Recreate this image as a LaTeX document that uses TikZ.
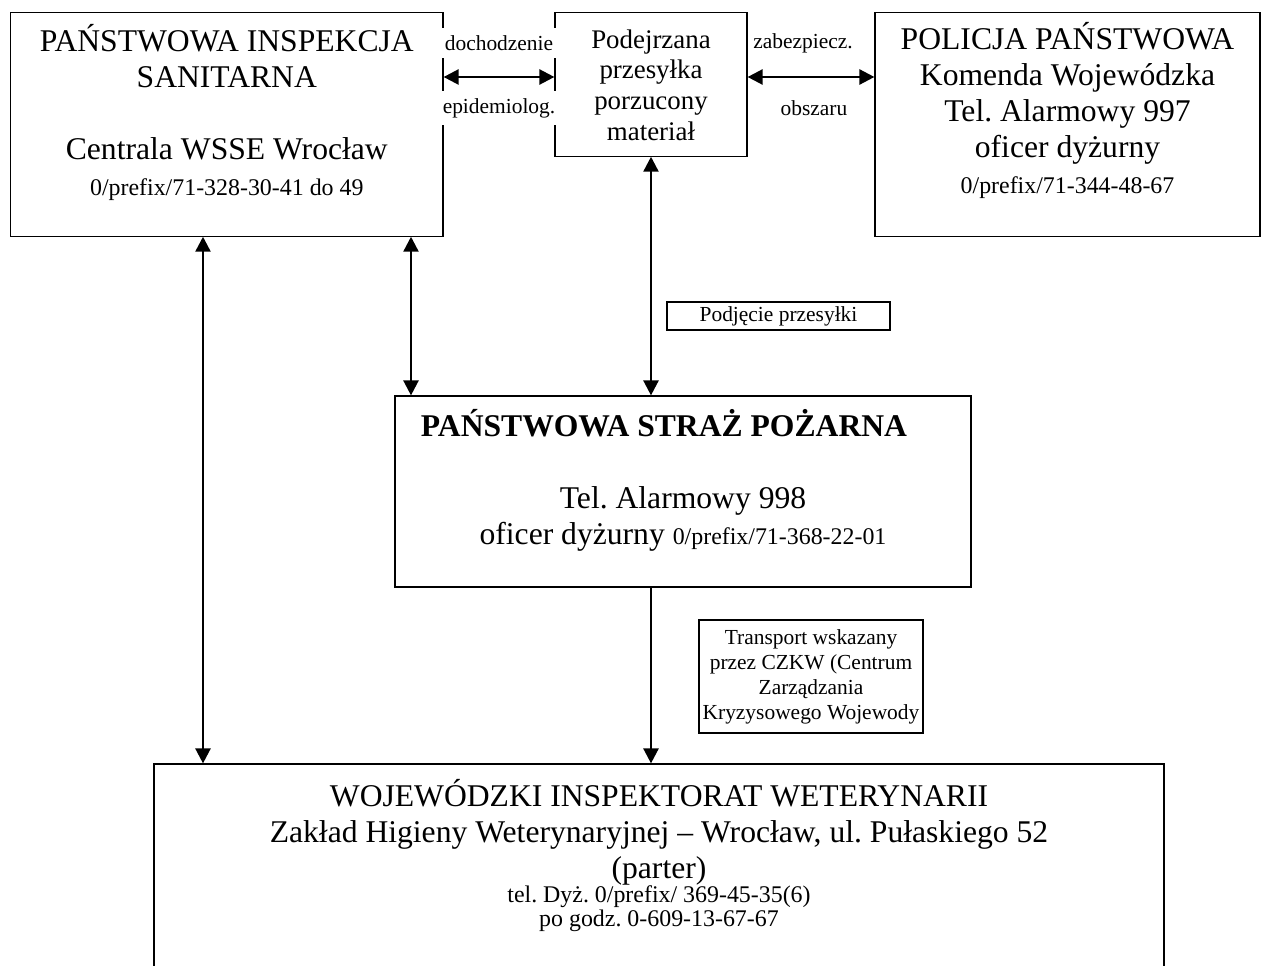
\documentclass[tikz,border=0pt]{standalone}
\usepackage{fontspec}
\setmainfont{Liberation Serif}
\usetikzlibrary{positioning}
\usetikzlibrary{arrows.meta}
\frenchspacing

\newcommand{\duzy}{\fontsize{18}{20.5}\selectfont}
\newcommand{\sredni}{\fontsize{13.6}{15.5}\selectfont}
\newcommand{\maly}{\fontsize{12.2}{14.2}\selectfont}

\begin{document}
\begin{tikzpicture}[x=0.02cm, y=-0.02cm,
	ramka/.style={draw, line width=0.7pt, inner sep=0pt},
	tekst/.style={align=center, inner sep=0pt, font=\duzy},
	etyk/.style={font=\maly, fill=white, inner xsep=0.06cm, inner ysep=0.15cm},
	dwustr/.style={line width=1.4pt, {Triangle[length=0.3cm,width=0.3cm]}-{Triangle[length=0.3cm,width=0.3cm]}},
	jednostr/.style={line width=1.4pt, -{Triangle[length=0.3cm,width=0.3cm]}}]
		
		\useasboundingbox (0,0) rectangle (1264,966);
		\clip (0,0) rectangle (1264,966);
		
		% ramki
		\node[ramka, minimum width=8.65cm, minimum height=4.47cm] (pss) at (226.8,124.4) {};
		\node[ramka, minimum width=3.84cm, minimum height=2.87cm] (paczka) at (651,84.4) {};
		\node[ramka, minimum width=7.7cm, minimum height=4.47cm] (policja) at (1067.5,124.4) {};
		\node[ramka, minimum width=11.52cm, minimum height=3.82cm] (psp) at (683,491.5) {};
		\node[ramka, minimum width=20.2cm, minimum height=4.72cm] (wiw) at (659,882) {};
		\node[ramka, font=\maly, minimum width=4.46cm, minimum height=0.56cm] (podj) at (778.5,316) {Podjęcie przesyłki};
		\node[ramka, font=\maly, align=center, minimum width=4.48cm, minimum height=2.26cm] (transp) at (811,676.5) {Transport wskazany\\ przez CZKW (Centrum\\ Zarządzania\\ Kryzysowego Wojewody};
		
		% teksty
		\node[tekst, below=0.24cm of pss.north] (pssT) {PAŃSTWOWA INSPEKCJA\\ SANITARNA\\[20.5pt] Centrala WSSE Wrocław\\ {\sredni 0/prefix/71-328-30-41 do 49}};
		\node[tekst, font=\fontsize{15.3}{17.6}\selectfont, below=0.34cm of paczka.north] (paczkaT) {Podejrzana\\ przesyłka\\ porzucony\\ materiał};
		\node[tekst, below=0.2cm of policja.north] (policjaT) {POLICJA PAŃSTWOWA\\ Komenda Wojewódzka\\ Tel. Alarmowy 997\\ oficer dyżurny\\ {\sredni 0/prefix/71-344-48-67}};
		\node[tekst, below=0.28cm of psp.north] (pspT) {\textbf{PAŃSTWOWA STRAŻ POŻARNA}\hspace*{0.76cm}\\[20.5pt] Tel. Alarmowy 998\\ oficer dyżurny {\sredni 0/prefix/71-368-22-01}};
		\node[tekst, below=0.31cm of wiw.north] (wiwT) {WOJEWÓDZKI INSPEKTORAT WETERYNARII\\ Zakład Higieny Weterynaryjnej – Wrocław, ul. Pułaskiego 52\\ (parter)\\[-7pt] {\sredni tel. Dyż. 0/prefix/ 369-45-35(6)}\\[-6.5pt] {\sredni po godz. 0-609-13-67-67}};
		
		% strzalki
		\coordinate (poziom) at (0,77);
		\coordinate (kolA) at (203,0);
		\coordinate (kolB) at (411,0);
		\draw[dwustr] (pss.east |- poziom) -- (paczka.west |- poziom);
		\draw[dwustr] (paczka.east |- poziom) -- (policja.west |- poziom);
		\draw[dwustr] (paczka.south) -- (psp.north -| paczka.south);
		\draw[dwustr] (pss.south -| kolB) -- (psp.north -| kolB);
		\draw[dwustr] (pss.south -| kolA) -- (wiw.north -| kolA);
		\draw[jednostr] (psp.south -| paczka.south) -- (wiw.north -| paczka.south);
		
		% opisy strzalek
		\node[etyk] (doch) at (499,43) {dochodzenie};
		\node[etyk] (epid) at (499,108) {epidemiolog.};
		\node[etyk] (zabe) at (803,43) {zabezpiecz.};
		\node[etyk] (obsz) at (814,108) {obszaru};
		
		\end{tikzpicture}
\end{document}
